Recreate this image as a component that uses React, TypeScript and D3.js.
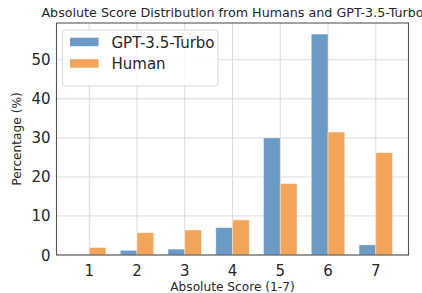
import React from "react";
import * as d3 from "d3";

const scores = [1, 2, 3, 4, 5, 6, 7];
const gptValues = [0, 1.2, 1.5, 7.0, 30.0, 56.6, 2.6];
const humanValues = [1.9, 5.7, 6.4, 9.0, 18.3, 31.5, 26.2];
const yTicks = [0, 10, 20, 30, 40, 50];
const seriesNames = ["GPT-3.5-Turbo", "Human"];

const W = 422;
const H = 293;
const left = 56.5;
const right = 408.5;
const top = 23;
const bottom = 255;
const barW = 0.35;
const blue = "rgb(107,155,197)";
const orange = "rgb(242,164,90)";
const font = "DejaVu Sans, sans-serif";

export default function App() {
  const x = d3.scaleLinear().domain([0.315, 7.685]).range([left, right]);
  const y = d3.scaleLinear().domain([0, 59.43]).range([bottom, top]);
  const bw = x(barW) - x(0);

  const bars = [
    { values: gptValues, color: blue, offset: -barW / 2 },
    { values: humanValues, color: orange, offset: barW / 2 },
  ];

  return (
    <div style={{ position: "absolute", left: 0, top: 0 }}>
      <svg width={W} height={H} style={{ display: "block" }} fontFamily={font}>
        <rect width={W} height={H} fill="white" />
        {/* grid */}
        {scores.map((s) => (
          <line key={"gx" + s} x1={x(s)} x2={x(s)} y1={top} y2={bottom} stroke="#dcdcdc" strokeWidth={1} />
        ))}
        {yTicks.map((t) => (
          <line key={"gy" + t} x1={left} x2={right} y1={y(t)} y2={y(t)} stroke="#dcdcdc" strokeWidth={1} />
        ))}
        {/* bars */}
        {bars.map((b, i) =>
          b.values.map((v, j) => (
            <rect
              key={i + "-" + j}
              x={x(scores[j] + b.offset) - bw / 2}
              y={y(v)}
              width={bw}
              height={y(0) - y(v)}
              fill={b.color}
              stroke="rgba(255,255,255,0.5)"
              strokeWidth={0.8}
            />
          ))
        )}
        {/* frame */}
        <rect x={left} y={top} width={right - left} height={bottom - top} fill="none" stroke="#555" strokeWidth={1.1} />
        {/* tick labels */}
        {scores.map((s) => (
          <text key={"tx" + s} x={x(s)} y={bottom + 21} textAnchor="middle" fontSize={15} fill="#262626">
            {s}
          </text>
        ))}
        {yTicks.map((t) => (
          <text key={"ty" + t} x={left - 6} y={y(t) + 5.5} textAnchor="end" fontSize={15} fill="#262626">
            {t}
          </text>
        ))}
        {/* labels */}
        <text x={(left + right) / 2} y={17} textAnchor="middle" fontSize={12.7} fill="#262626">
          Absolute Score Distribution from Humans and GPT-3.5-Turbo
        </text>
        <text x={(left + right) / 2} y={290.5} textAnchor="middle" fontSize={12.2} fill="#262626">
          Absolute Score (1-7)
        </text>
        <text
          transform={`translate(21,${(top + bottom) / 2}) rotate(-90)`}
          textAnchor="middle"
          fontSize={12.2}
          fill="#262626"
        >
          Percentage (%)
        </text>
        {/* legend */}
        <g transform="translate(62.5,30)">
          <rect width={155.5} height={56} rx={3} fill="rgba(255,255,255,0.85)" stroke="#d8d8d8" strokeWidth={1} />
          {seriesNames.map((n, i) => (
            <g key={n} transform={`translate(0,${i * 21.5})`}>
              <rect x={7.5} y={7.7} width={28.5} height={8.5} fill={i === 0 ? blue : orange} />
              <text x={49} y={17.5} fontSize={15} fill="#262626">
                {n}
              </text>
            </g>
          ))}
        </g>
      </svg>
    </div>
  );
}
